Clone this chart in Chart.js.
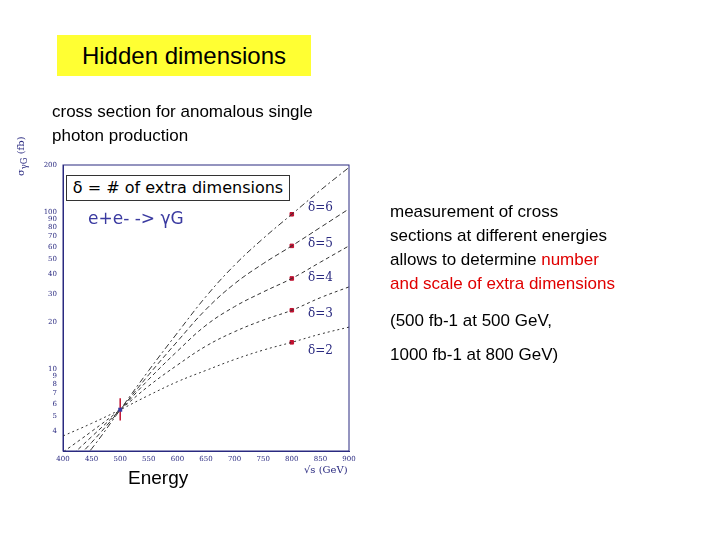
<!DOCTYPE html>
<html><head><meta charset="utf-8">
<script src="https://cdn.jsdelivr.net/npm/chart.js@4"></script>
<style>
body{margin:0;width:720px;height:540px;background:#fff;position:relative;overflow:hidden;font-family:"Liberation Sans",Arial,sans-serif;}
.t{position:absolute;white-space:nowrap;}
#c{position:absolute;left:0;top:0;}
</style></head><body>
<canvas id="c" width="720" height="540"></canvas>
<div class="t" style="left:57px;top:35px;width:254px;height:41px;background:#ffff33;font-size:24px;line-height:41px;text-align:center;">Hidden dimensions</div>
<div class="t" style="left:52px;top:100px;font-size:17px;line-height:24px;">cross section for anomalous single<br>photon production</div>
<div class="t" style="left:390px;top:200px;font-size:17px;line-height:24px;">measurement of cross<br>sections at different energies<br>allows to determine <span style="color:#e00000">number</span><br><span style="color:#e00000">and scale of extra dimensions</span></div>
<div class="t" style="left:390px;top:311px;font-size:17px;">(500 fb-1 at 500 GeV,</div>
<div class="t" style="left:390px;top:345px;font-size:17px;">1000 fb-1 at 800 GeV)</div>
<div class="t" style="left:66px;top:175px;width:222px;height:24px;border:1px solid #333;background:#fff;font-size:16px;line-height:24px;text-align:center;font-family:'DejaVu Sans',sans-serif;">δ = # of extra dimensions</div>
<div class="t" style="left:88px;top:208px;font-size:17px;color:#3a3aa0;font-family:'DejaVu Sans',sans-serif;">e+e- -&gt; γG</div>
<div class="t" style="left:128px;top:467px;font-size:19px;">Energy</div>
<div class="t" style="left:304px;top:464px;font-size:10px;color:#2a2a80;font-family:'DejaVu Serif',serif;">√s (GeV)</div>
<div class="t" style="left:15px;top:176px;font-size:10px;color:#2a2a80;font-family:'DejaVu Serif',serif;transform:rotate(-90deg);transform-origin:left top;">σ<sub>γG</sub> (fb)</div>
<div class="t" style="left:308px;top:200px;font-size:12px;color:#2a2a80;font-family:'DejaVu Serif',serif;">δ=6</div>
<div class="t" style="left:308px;top:236px;font-size:12px;color:#2a2a80;font-family:'DejaVu Serif',serif;">δ=5</div>
<div class="t" style="left:308px;top:270px;font-size:12px;color:#2a2a80;font-family:'DejaVu Serif',serif;">δ=4</div>
<div class="t" style="left:308px;top:306px;font-size:12px;color:#2a2a80;font-family:'DejaVu Serif',serif;">δ=3</div>
<div class="t" style="left:308px;top:343px;font-size:12px;color:#2a2a80;font-family:'DejaVu Serif',serif;">δ=2</div>
<script>
const energies=[400,450,500,550,600,650,700,750,800,850,900];
const d2=[3.74,4.5,5.5,6.8,8.3,9.8,11.5,13.2,14.8,16.7,18.5];
const d3=[2.95,4.0,5.5,7.8,10.6,14.0,17.3,20.5,23.7,28.5,33.4];
const d4=[2.5,3.7,5.5,8.6,13,19,25,31,37.8,48,61];
const d5=[2.2,3.4,5.5,9.2,15,24,35,47,61,80,105];
const d6=[1.9,3.1,5.5,9.8,17,29,46,68,97,138,193];
const measX=[800,800,800,800,800];
const measY=[14.8,23.7,37.8,61,97];
const refPoint={x:500,y:5.5,lo:4.7,hi:6.5};
const xTicks=[400,450,500,550,600,650,700,750,800,850,900];
const yTickLabels=[4,5,6,7,8,9,10,20,30,40,50,60,70,80,90,100,200];

const toPts=a=>energies.map((e,i)=>({x:e,y:a[i]}));
const dashes=[[2,3],[3,3],[4,3],[5,3],[6,3,2,3]];
const series=[d2,d3,d4,d5,d6];
const datasets=series.map((s,i)=>({data:toPts(s),borderColor:'#333',borderWidth:1,borderDash:dashes[i],pointRadius:0,tension:0.4,fill:false}));
datasets.push({data:measX.map((x,i)=>({x,y:measY[i]})),showLine:false,pointRadius:2.5,pointStyle:'rect',backgroundColor:'#c01030',borderColor:'#c01030'});
const errBar={id:'err',afterDatasetsDraw(ch){const x=ch.scales.x,y=ch.scales.y,c=ch.ctx;c.save();c.strokeStyle='#c01030';c.lineWidth=1.5;
const px=x.getPixelForValue(refPoint.x);c.beginPath();c.moveTo(px,y.getPixelForValue(refPoint.lo));c.lineTo(px,y.getPixelForValue(refPoint.hi));c.stroke();
c.fillStyle='#3a3aa0';c.fillRect(px-2,y.getPixelForValue(refPoint.y)-2,4,4);
c.strokeStyle='#2a2a80';c.lineWidth=1;c.strokeRect(ch.chartArea.left,ch.chartArea.top,ch.chartArea.right-ch.chartArea.left,ch.chartArea.bottom-ch.chartArea.top);c.restore();}};
new Chart(document.getElementById('c'),{type:'line',data:{datasets},plugins:[errBar],
options:{responsive:false,animation:false,events:[],
layout:{padding:{left:33,top:165,right:371,bottom:71}},
plugins:{legend:{display:false},tooltip:{enabled:false}},
scales:{
x:{type:'linear',min:400,max:900,afterFit:s=>{s.height=18;},afterBuildTicks:s=>{s.ticks=xTicks.map(v=>({value:v}));},
grid:{display:false,drawTicks:false},border:{color:'#2a2a80'},ticks:{font:{family:'DejaVu Serif',size:7},color:'#2a2a80',padding:4}},
y:{type:'logarithmic',min:3,max:200,afterFit:s=>{s.width=30;},afterBuildTicks:s=>{s.ticks=yTickLabels.map(v=>({value:v}));},
grid:{display:false,drawTicks:false},border:{color:'#2a2a80'},ticks:{font:{family:'DejaVu Serif',size:7},color:'#2a2a80',padding:6,autoSkip:false,callback:v=>String(v)}}
}}});
</script></body></html>
